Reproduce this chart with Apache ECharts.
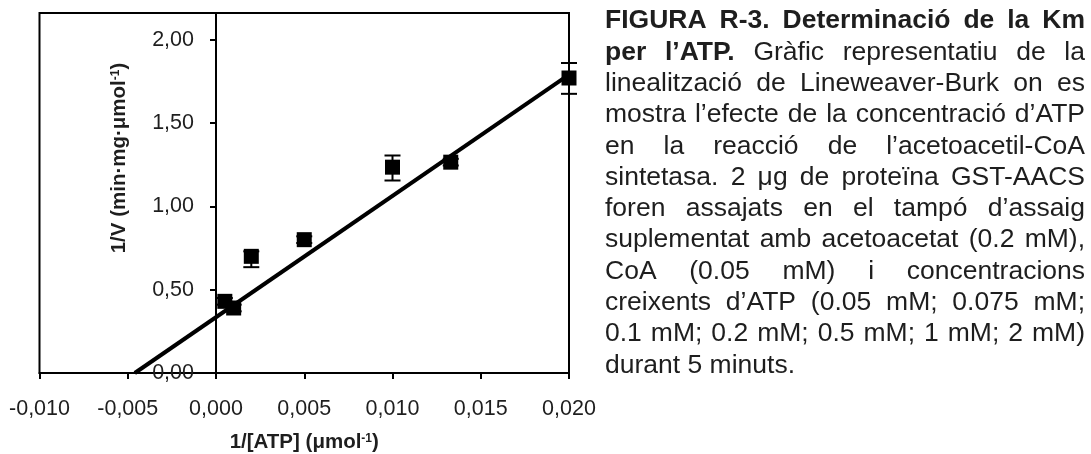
<!DOCTYPE html>
<html>
<head>
<meta charset="utf-8">
<script src="https://cdn.jsdelivr.net/npm/echarts@6/dist/echarts.min.js"></script>
<style>
html, body { margin: 0; padding: 0; background: #fff; }
#chart { width: 1091px; height: 454px; }
</style>
</head>
<body>
<div id="chart"></div>
<script>
// 1/[ATP] (umol-1) i 1/V llegits del grafic
var invATP = [0.0005, 0.001, 0.002, 0.005, 0.010, 0.0133, 0.020];
var invV = [0.43, 0.39, 0.70, 0.80, 1.235, 1.265, 1.77];
var errLow = [0.02, 0.02, 0.065, 0.02, 0.08, 0.02, 0.095];
var errHigh = [0.02, 0.02, 0.03, 0.02, 0.07, 0.02, 0.09];

// recta de Lineweaver-Burk
var fitX = [-0.0046, 0.020];
var fitY = [0, 1.79];

var xTicks = [-0.010, -0.005, 0.000, 0.005, 0.010, 0.015, 0.020];
var yTicks = [0.00, 0.50, 1.00, 1.50, 2.00];
var yTop = 2.16;

var captionLines = [
	'FIGURA R-3. Determinació de la Km',
	'per l’ATP. Gràfic representatiu de la',
	'linealització de Lineweaver-Burk on es',
	'mostra l’efecte de la concentració d’ATP',
	'en la reacció de l’acetoacetil-CoA',
	'sintetasa. 2 μg de proteïna GST-AACS',
	'foren assajats en el tampó d’assaig',
	'suplementat amb acetoacetat (0.2 mM),',
	'CoA (0.05 mM) i concentracions',
	'creixents d’ATP (0.05 mM; 0.075 mM;',
	'0.1 mM; 0.2 mM; 0.5 mM; 1 mM; 2 mM)',
	'durant 5 minuts.'
];
var captionBoldWords = 8;

var FONT = 'Liberation Sans';
var TXT = '#1e1e1e';

var gridLeft = 39.5, gridRight = 522;
var gridW = 1091 - gridLeft - gridRight;

function step(arr) {
	return Math.round((arr[1] - arr[0]) * 1e6) / 1e6;
}

// text del peu de figura, justificat paraula a paraula
function buildCaption() {
	var left = 605, right = 1085, top = 21, lineH = 31.3, size = 26.5;
	var ctx = document.createElement('canvas').getContext('2d');
	var els = [];
	var wordNo = 0;
	captionLines.forEach(function (line, i) {
		var words = line.split(' ');
		var items = words.map(function (w) {
			var bold = wordNo++ < captionBoldWords;
			ctx.font = (bold ? 'bold ' : '') + size + 'px "' + FONT + '"';
			return { text: w, bold: bold, w: ctx.measureText(w).width };
		});
		var total = items.reduce(function (s, it) { return s + it.w; }, 0);
		var gap = ctx.measureText(' ').width;
		if (i < captionLines.length - 1 && items.length > 1) {
			gap = (right - left - total) / (items.length - 1);
		}
		var x = left;
		items.forEach(function (it) {
			els.push({
				type: 'text',
				x: x,
				y: top + i * lineH,
				style: {
					text: it.text,
					fontFamily: FONT,
					fontSize: size,
					fontWeight: it.bold ? 'bold' : 'normal',
					fill: TXT,
					verticalAlign: 'middle'
				}
			});
			x += it.w + gap;
		});
	});
	return els;
}

var myChart = echarts.init(document.getElementById('chart'));

var points = invATP.map(function (x, i) { return [x, invV[i]]; });
var bars = invATP.map(function (x, i) { return [x, invV[i], errLow[i], errHigh[i]]; });
var fitLine = fitX.map(function (x, i) { return [x, fitY[i]]; });

var xMin = xTicks[0], xMax = xTicks[xTicks.length - 1];
// l'eix Y passa per x = 0
var yAxisShift = gridW * (0 - xMin) / (xMax - xMin);

var supStyle = { fontFamily: FONT, fontSize: 12, fontWeight: 'bold', color: TXT, padding: [0, 0, 8, 0] };

var option = {
	animation: false,
	grid: {
		left: gridLeft, right: gridRight, top: 13, bottom: 81,
		show: true, borderColor: '#000', borderWidth: 2,
		outerBoundsMode: 'none'
	},
	xAxis: {
		type: 'value',
		min: xMin,
		max: xMax,
		interval: step(xTicks),
		axisLine: { onZero: true, lineStyle: { color: '#000', width: 2 } },
		axisTick: { show: true, length: 6, lineStyle: { color: '#000', width: 2 } },
		splitLine: { show: false },
		axisLabel: {
			margin: 25, fontFamily: FONT, fontSize: 21.5, color: TXT,
			formatter: function (v) { return v.toFixed(3).replace('.', ','); }
		},
		name: '1/[ATP] (μmol{s|-1})',
		nameLocation: 'middle',
		nameGap: 59,
		nameTextStyle: {
			fontFamily: FONT, fontSize: 20.5, fontWeight: 'bold', color: TXT,
			rich: { s: supStyle }
		}
	},
	yAxis: {
		type: 'value',
		min: yTicks[0],
		max: yTop,
		interval: step(yTicks),
		offset: -yAxisShift,
		axisLine: { onZero: false, lineStyle: { color: '#000', width: 2 } },
		axisTick: { show: true, length: 6, lineStyle: { color: '#000', width: 2 } },
		splitLine: { show: false },
		axisLabel: {
			margin: 22, fontFamily: FONT, fontSize: 21.5, color: TXT, showMaxLabel: false,
			formatter: function (v) { return v.toFixed(2).replace('.', ','); }
		},
		name: '1/V (min·mg·μmol{s|-1})',
		nameLocation: 'middle',
		nameRotate: 90,
		nameGap: 86,
		nameTextStyle: {
			fontFamily: FONT, fontSize: 20.5, fontWeight: 'bold', color: TXT,
			padding: [0, 0, 0, 70],
			rich: { s: supStyle }
		}
	},
	graphic: buildCaption(),
	series: [
		{
			type: 'line',
			data: fitLine,
			symbol: 'none',
			lineStyle: { color: '#000', width: 4 },
			z: 2
		},
		{
			type: 'custom',
			data: bars,
			renderItem: function (params, api) {
				var x = api.value(0), y = api.value(1);
				var hi = api.coord([x, y + api.value(3)]);
				var lo = api.coord([x, y - api.value(2)]);
				var c = 8;
				var st = { stroke: '#000', lineWidth: 2 };
				return {
					type: 'group',
					children: [
						{ type: 'line', shape: { x1: hi[0], y1: hi[1], x2: lo[0], y2: lo[1] }, style: st },
						{ type: 'line', shape: { x1: hi[0] - c, y1: hi[1], x2: hi[0] + c, y2: hi[1] }, style: st },
						{ type: 'line', shape: { x1: lo[0] - c, y1: lo[1], x2: lo[0] + c, y2: lo[1] }, style: st }
					]
				};
			},
			z: 3
		},
		{
			type: 'scatter',
			data: points,
			symbol: 'rect',
			symbolSize: 15,
			itemStyle: { color: '#000', opacity: 1 },
			z: 4
		}
	]
};

myChart.setOption(option);
</script>
</body>
</html>
